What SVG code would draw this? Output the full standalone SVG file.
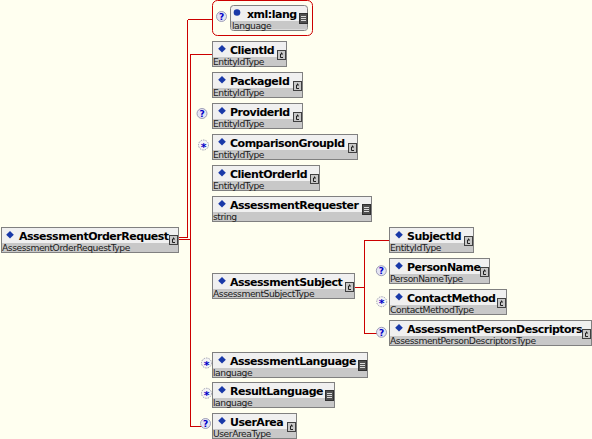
<svg xmlns="http://www.w3.org/2000/svg" xmlns:xlink="http://www.w3.org/1999/xlink" width="592" height="439" viewBox="0 0 592 439">
<style>
.box{fill:#f0f0f0;stroke:#808080;stroke-width:1}
.band{fill:#c8c8c8}
.name{font-family:"DejaVu Sans",Verdana,sans-serif;font-weight:bold;font-size:11px;letter-spacing:-0.5px;fill:#000}
.type{font-family:"DejaVu Sans",Verdana,sans-serif;font-size:9.2px;letter-spacing:-0.45px;fill:#202020}
.dia{fill:#1838a8}
.conn{fill:none;stroke:#cc0000;stroke-width:1;shape-rendering:crispEdges}
.q{font-family:"DejaVu Sans",sans-serif;font-weight:bold;font-size:9px;fill:#0000c8;text-anchor:middle}
</style>
<defs>
<g id="ic">
<rect x="0.5" y="0.5" width="8" height="9" fill="#c8c8c8" stroke="#404040"/>
<path d="M6,4 H3.5 V7.5 H6 M4.5,2.5 V4" fill="none" stroke="#202020" stroke-width="1"/>
</g>
<g id="is">
<rect x="0.5" y="0.5" width="8" height="10" fill="#505050" stroke="#303030"/>
<path d="M2,3.5 H7 M2,5.5 H7 M2,7.5 H7" stroke="#d8d8d8" stroke-width="1"/>
</g>
<g id="iq">
<circle r="5" fill="#e4e4f4" stroke="#8888a8" stroke-width="0.8"/>
<text class="q" x="0" y="3.3">?</text>
</g>
<g id="ist">
<circle r="5" fill="#f4f4f4" stroke="#8888a0" stroke-width="0.8" stroke-dasharray="1.5,1"/>
<text class="q" x="0" y="5.5" style="font-size:11px">*</text>
</g>
<path id="dm" class="dia" d="M10,4 L13.8,7.8 L10,11.6 L6.2,7.8Z"/>
</defs>
<rect width="592" height="439" fill="#fffff0"/>

<g id="connectors">
<path class="conn" d="M178,237.5 H187.5"/>
<path class="conn" d="M187.5,237.5 V19.5"/>
<path class="conn" d="M187.5,19.5 H212.5"/>
<path class="conn" d="M178,239.5 H190.5"/>
<path class="conn" d="M212,54.5 H190.5 V426.5 H205"/>
<path class="conn" d="M354.5,287.5 H364.5"/>
<path class="conn" d="M389,240.5 H364.5 V333.5 H381"/>
</g>

<g id="n-root" transform="translate(1,227)">
<rect class="box" x="0.5" y="0.5" width="177" height="25"/>
<rect class="band" x="1" y="16" width="176" height="9"/>
<use xlink:href="#dm" x="-1"/>
<text class="name" x="18" y="13">AssessmentOrderRequest</text>
<text class="type" x="1" y="23.5">AssessmentOrderRequestType</text>
<use xlink:href="#ic" x="168" y="8"/>
</g>

<g id="n-xmllang">
<rect x="212.5" y="0.5" width="100" height="35" rx="5" fill="none" stroke="#cc0000"/>
<use xlink:href="#iq" x="221.5" y="16.5"/>
<g transform="translate(230,5)">
<rect class="box" x="0.5" y="0.5" width="77" height="25" rx="3"/>
<rect class="band" x="1" y="16" width="76" height="8.5"/>
<circle cx="7" cy="7.5" r="3.3" fill="#1838a8"/>
<text class="name" x="17" y="13">xml:lang</text>
<text class="type" x="2" y="23.5">language</text>
<use xlink:href="#is" x="69" y="8"/>
</g>
</g>

<g id="n-ClientId" transform="translate(212,41)">
<rect class="box" x="0.5" y="0.5" width="74" height="25"/>
<rect class="band" x="1" y="16" width="73" height="9"/>
<use xlink:href="#dm"/>
<text class="name" x="18" y="13">ClientId</text>
<text class="type" x="1" y="23.5">EntityIdType</text>
<use xlink:href="#ic" x="65" y="9"/>
</g>

<g id="n-PackageId" transform="translate(212,72)">
<rect class="box" x="0.5" y="0.5" width="90" height="25"/>
<rect class="band" x="1" y="16" width="89" height="9"/>
<use xlink:href="#dm"/>
<text class="name" x="18" y="13">PackageId</text>
<text class="type" x="1" y="23.5">EntityIdType</text>
<use xlink:href="#ic" x="81" y="9"/>
</g>

<g id="n-ProviderId" transform="translate(212,103)">
<use xlink:href="#iq" x="-10" y="10.5"/>
<rect class="box" x="0.5" y="0.5" width="90" height="25"/>
<rect class="band" x="1" y="16" width="89" height="9"/>
<use xlink:href="#dm"/>
<text class="name" x="18" y="13">ProviderId</text>
<text class="type" x="1" y="23.5">EntityIdType</text>
<use xlink:href="#ic" x="81" y="9"/>
</g>

<g id="n-ComparisonGroupId" transform="translate(212,134)">
<use xlink:href="#ist" x="-8.5" y="11"/>
<rect class="box" x="0.5" y="0.5" width="145" height="25"/>
<rect class="band" x="1" y="16" width="144" height="9"/>
<use xlink:href="#dm"/>
<text class="name" x="18" y="13">ComparisonGroupId</text>
<text class="type" x="1" y="23.5">EntityIdType</text>
<use xlink:href="#ic" x="136" y="9"/>
</g>

<g id="n-ClientOrderId" transform="translate(212,165)">
<rect class="box" x="0.5" y="0.5" width="107" height="25"/>
<rect class="band" x="1" y="16" width="106" height="9"/>
<use xlink:href="#dm"/>
<text class="name" x="18" y="13">ClientOrderId</text>
<text class="type" x="1" y="23.5">EntityIdType</text>
<use xlink:href="#ic" x="98" y="9"/>
</g>

<g id="n-AssessmentRequester" transform="translate(212,196)">
<rect class="box" x="0.5" y="0.5" width="159" height="25"/>
<rect class="band" x="1" y="16" width="158" height="9"/>
<use xlink:href="#dm"/>
<text class="name" x="18" y="13">AssessmentRequester</text>
<text class="type" x="1" y="23.5">string</text>
<use xlink:href="#is" x="150" y="8"/>
</g>

<g id="n-AssessmentSubject" transform="translate(212,273)">
<rect class="box" x="0.5" y="0.5" width="142" height="25"/>
<rect class="band" x="1" y="16" width="141" height="9"/>
<use xlink:href="#dm"/>
<text class="name" x="18" y="13">AssessmentSubject</text>
<text class="type" x="1" y="23.5">AssessmentSubjectType</text>
<use xlink:href="#ic" x="133" y="9"/>
</g>

<g id="n-SubjectId" transform="translate(389,227)">
<rect class="box" x="0.5" y="0.5" width="84" height="25"/>
<rect class="band" x="1" y="16" width="83" height="9"/>
<use xlink:href="#dm"/>
<text class="name" x="18" y="13">SubjectId</text>
<text class="type" x="1" y="23.5">EntityIdType</text>
<use xlink:href="#ic" x="75" y="9"/>
</g>

<g id="n-PersonName" transform="translate(389,258)">
<use xlink:href="#iq" x="-7.7" y="12.7"/>
<rect class="box" x="0.5" y="0.5" width="100" height="25"/>
<rect class="band" x="1" y="16" width="99" height="9"/>
<use xlink:href="#dm"/>
<text class="name" x="18" y="13">PersonName</text>
<text class="type" x="1" y="23.5">PersonNameType</text>
<use xlink:href="#ic" x="91" y="9"/>
</g>

<g id="n-ContactMethod" transform="translate(389,289)">
<use xlink:href="#ist" x="-7.3" y="12.7"/>
<rect class="box" x="0.5" y="0.5" width="117" height="25"/>
<rect class="band" x="1" y="16" width="116" height="9"/>
<use xlink:href="#dm"/>
<text class="name" x="18" y="13">ContactMethod</text>
<text class="type" x="1" y="23.5">ContactMethodType</text>
<use xlink:href="#ic" x="108" y="9"/>
</g>

<g id="n-AssessmentPersonDescriptors" transform="translate(389,320)">
<use xlink:href="#iq" x="-7.5" y="12.3"/>
<rect class="box" x="0.5" y="0.5" width="202" height="25"/>
<rect class="band" x="1" y="16" width="201" height="9"/>
<use xlink:href="#dm"/>
<text class="name" x="18" y="13">AssessmentPersonDescriptors</text>
<text class="type" x="1" y="23.5">AssessmentPersonDescriptorsType</text>
<use xlink:href="#ic" x="193" y="9"/>
</g>

<g id="n-AssessmentLanguage" transform="translate(212,352)">
<use xlink:href="#ist" x="-5.5" y="11"/>
<rect class="box" x="0.5" y="0.5" width="155" height="25"/>
<rect class="band" x="1" y="16" width="154" height="9"/>
<use xlink:href="#dm"/>
<text class="name" x="18" y="13">AssessmentLanguage</text>
<text class="type" x="1" y="23.5">language</text>
<use xlink:href="#is" x="146" y="8"/>
</g>

<g id="n-ResultLanguage" transform="translate(212,382)">
<use xlink:href="#ist" x="-5.5" y="11.3"/>
<rect class="box" x="0.5" y="0.5" width="122" height="25"/>
<rect class="band" x="1" y="16" width="121" height="9"/>
<use xlink:href="#dm"/>
<text class="name" x="18" y="13">ResultLanguage</text>
<text class="type" x="1" y="23.5">language</text>
<use xlink:href="#is" x="113" y="8"/>
</g>

<g id="n-UserArea" transform="translate(212,413)">
<use xlink:href="#iq" x="-6.5" y="10.5"/>
<rect class="box" x="0.5" y="0.5" width="84" height="25"/>
<rect class="band" x="1" y="16" width="83" height="9"/>
<use xlink:href="#dm"/>
<text class="name" x="18" y="13">UserArea</text>
<text class="type" x="1" y="23.5">UserAreaType</text>
<use xlink:href="#ic" x="75" y="9"/>
</g>
</svg>
